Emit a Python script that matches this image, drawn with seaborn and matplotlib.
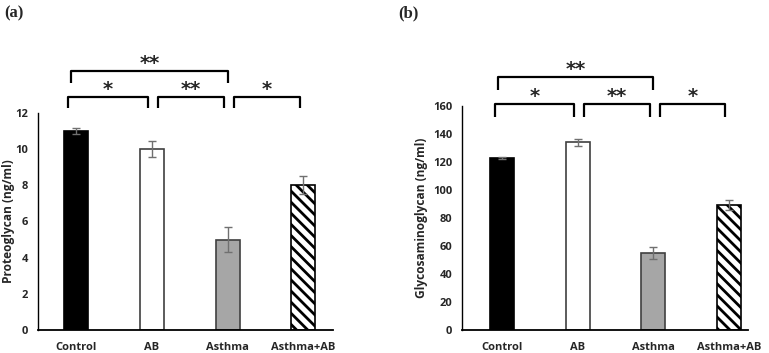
import matplotlib
matplotlib.use("Agg")
import matplotlib.pyplot as plt
import seaborn as sns
import pandas as pd

groups = ["Control", "AB", "Asthma", "Asthma+AB"]
proteoglycan = [11.0, 10.0, 5.0, 8.0]
proteoglycan_err = [0.15, 0.45, 0.7, 0.5]
gag = [123.0, 134.0, 55.0, 89.0]
gag_err = [0.7, 2.5, 4.0, 3.5]
ylabel_a = "Proteoglycan (ng/ml)"
ylabel_b = "Glycosaminoglycan (ng/ml)"
yticks_a = [0, 2, 4, 6, 8, 10, 12]
yticks_b = [0, 20, 40, 60, 80, 100, 120, 140, 160]
comparisons = [(0, 2, "**"), (0, 1, "*"), (1, 2, "**"), (2, 3, "*")]

sns.set_style("white")
plt.rcParams['font.family'] = ['Open Sans', 'DejaVu Sans']
plt.rcParams['hatch.linewidth'] = 2.0

fig = plt.figure(figsize=(7.69, 3.53), dpi=100)
ax_a = fig.add_axes([0.0494, 0.0652, 0.3836, 0.6147])
ax_b = fig.add_axes([0.6008, 0.0652, 0.3720, 0.6346])

faces = ["black", "white", "#a6a6a6", "white"]
edges = ["black", "#404040", "#404040", "black"]
hatches = [None, None, None, "\\\\\\"]


def draw(ax, vals, errs, ylabel, yticks, xlim, levels, label_x):
    df = pd.DataFrame({"group": groups, "value": vals})
    sns.barplot(data=df, x="group", y="value", hue="group", palette=faces,
                legend=False, width=0.317, ax=ax, errorbar=None, zorder=2)
    for p, fc, ec, h in zip(ax.patches, faces, edges, hatches):
        p.set_facecolor(fc)
        p.set_edgecolor(ec)
        p.set_linewidth(1.2)
        if h:
            p.set_hatch(h)
    ax.errorbar(range(len(groups)), vals, yerr=errs, fmt="none",
                ecolor="#707070", elinewidth=1.0, capsize=3, capthick=1.0, zorder=3)
    ax.set_xlim(*xlim)
    ax.set_ylim(yticks[0], yticks[-1])
    ax.set_yticks(yticks)
    ax.set_yticklabels([str(t) for t in yticks], fontsize=8, fontweight="bold")
    ax.set_xticks(range(len(groups)))
    ax.set_xticklabels(groups, fontsize=8, fontweight="bold")
    ax.set_xlabel("")
    ax.set_ylabel(ylabel, fontsize=8.6, fontweight="bold")
    ax.yaxis.set_label_coords(label_x, 0.5)
    for s in ["top", "right"]:
        ax.spines[s].set_visible(False)
    ax.spines["left"].set_color("black")
    ax.spines["bottom"].set_color("black")
    ax.spines["left"].set_linewidth(1.0)
    ax.spines["bottom"].set_linewidth(1.3)
    ax.tick_params(axis="y", direction="out", length=4, width=1, color="black", pad=3)
    ax.tick_params(axis="x", length=0, pad=9)
    # significance brackets
    top_h, top_lo, low_h, low_lo = levels
    for i, j, lab in comparisons:
        if (i, j) == (0, 2):
            x0, x1, h, lo = i - 0.06, j - 0.0, top_h, top_lo
        else:
            x0, x1, h, lo = i - 0.1 if i == 0 else i + 0.08, j - 0.05, low_h, low_lo
        ax.plot([x0, x0, x1, x1], [lo, h, h, lo], color="black", lw=1.6,
                clip_on=False, solid_capstyle="butt")
        ax.annotate(lab, xy=((x0 + x1) / 2, h), xytext=(0, 1.5),
                    textcoords="offset points", ha="center", va="baseline",
                    fontsize=14, fontweight="bold", family=["DejaVu Sans"],
                    annotation_clip=False)


draw(ax_a, proteoglycan, proteoglycan_err, ylabel_a, yticks_a, (-0.50, 3.39),
     (14.3, 13.65, 12.87, 12.27), -0.078)
draw(ax_b, gag, gag_err, ylabel_b, yticks_b, (-0.53, 3.25),
     (180.7, 171.4, 161.4, 152.0), -0.119)

fig.text(0.006, 0.985, "(a)", fontsize=12, fontweight="bold",
         family=["Liberation Serif", "DejaVu Serif"], va="top", ha="left")
fig.text(0.518, 0.985, "(b)", fontsize=12, fontweight="bold",
         family=["Liberation Serif", "DejaVu Serif"], va="top", ha="left")

fig.savefig("out.png", dpi=100, facecolor="white")
